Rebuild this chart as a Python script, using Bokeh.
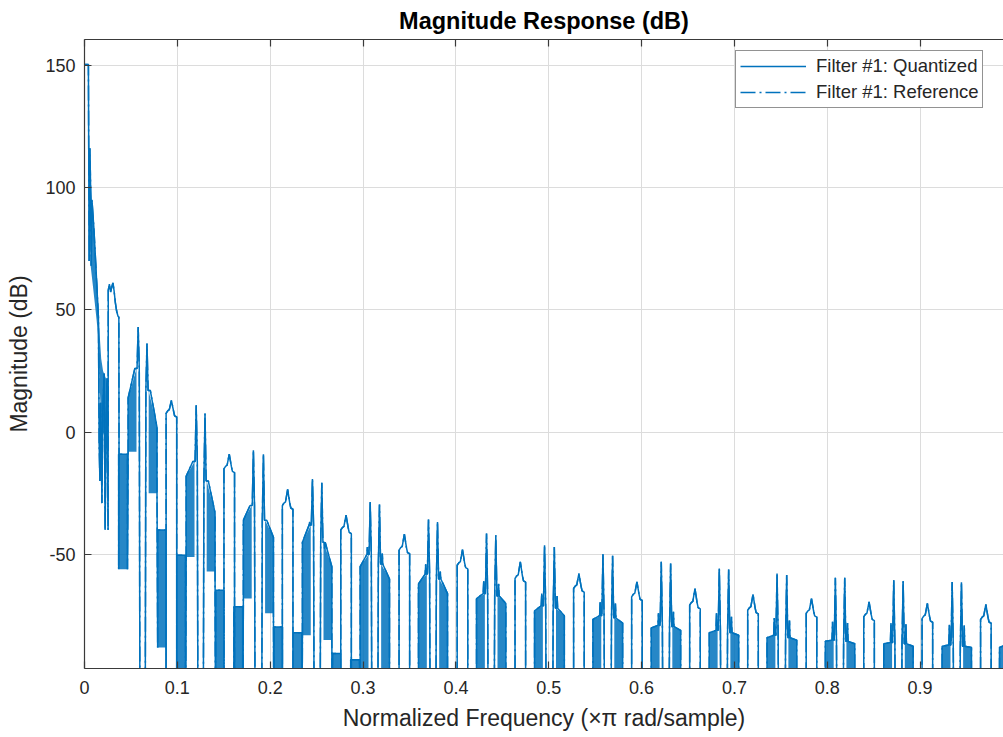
from bokeh.plotting import figure
from bokeh.models import (ColumnDataSource, FixedTicker, LinearAxis, Range1d,
                          Legend, LegendItem, PrintfTickFormatter)
from bokeh.embed import file_html
from bokeh.resources import INLINE

# ---------------------------------------------------------------- data
BELOW = -150.0  # response value under the axis floor (clipped)

x_ticks = [0.0, 0.1, 0.2, 0.3, 0.4, 0.5, 0.6, 0.7, 0.8, 0.9]
x_tick_labels = ["0", "0.1", "0.2", "0.3", "0.4", "0.5", "0.6", "0.7", "0.8", "0.9"]
y_ticks = [-50, 0, 50, 100, 150]
y_tick_labels = ["-50", "0", "50", "100", "150"]

# passband edge and first stopband lobe, point by point
start_freq = [0.0, 0.0042, 0.0050, 0.0058, 0.0066, 0.0072, 0.0080, 0.0100, 0.0125, 0.0150,
              0.0158, 0.0166, 0.0174, 0.0188, 0.0196, 0.0212, 0.0222, 0.0234, 0.0242, 0.0254,
              0.0256, 0.0268, 0.0281, 0.0295, 0.0306, 0.0318, 0.0332, 0.0346, 0.0360, 0.0370, 0.0372]
start_db = [150.3, 150.3, 70.0, 116.0, 100.0, 68.0, 95.0, 84.0, 66.0, 47.0,
            -5.0, -20.0, 12.0, -29.0, 8.0, 24.0, -40.0, 5.0, 22.0, -40.0,
            58.0, 60.5, 57.3, 59.5, 61.0, 58.0, 53.0, 49.5, 47.5, 47.0, -9.0]

# dense band of the transition region
band0_freq = [0.0066, 0.0090, 0.0110, 0.0130, 0.0145, 0.0160, 0.0180, 0.0200, 0.0230, 0.0255]
band0_top = [100.5, 90.0, 79.0, 66.0, 55.0, 42.0, 30.0, 25.0, 22.0, 20.0]
band0_bottom = [68.0, 60.0, 53.0, 46.0, 40.0, 22.0, 4.0, 0.0, -3.0, -6.0]

# twin spikes of each stopband period
spike_l_freq = [0.0578, 0.1203, 0.1819, 0.2455, 0.3077, 0.3705, 0.4330, 0.4955,
                0.5584, 0.6212, 0.6837, 0.7459, 0.8087, 0.8716, 0.9345]
spike_l_db = [43.0, 11.0, -7.4, -19.2, -28.5, -35.7, -41.4, -46.2,
              -49.9, -53.0, -55.7, -57.8, -59.5, -60.5, -61.2]
spike_r_freq = [0.0673, 0.1298, 0.1927, 0.2556, 0.3177, 0.3802, 0.4430, 0.5060,
                0.5688, 0.6313, 0.6938, 0.7563, 0.8188, 0.8817, 0.9445]
spike_r_db = [36.2, 7.6, -9.0, -20.7, -29.6, -36.7, -42.1, -46.9,
              -50.5, -53.7, -56.1, -58.4, -59.5, -60.8, -61.4]
side_l_db = [26.0, -12.0, -30.0, -36.7, -47.0, -54.0, -61.0, -66.0,
             -69.5, -74.0, -74.0, -76.0, -77.5, -78.0, -78.7]
side_r_db = [17.0, -20.0, -36.0, -47.6, -49.6, -57.0, -62.0, -67.0,
             -70.0, -73.4, -75.5, -77.0, -78.0, -78.5, -79.0]

# dense lobes around each spike pair: A (far left), B (near left), C (near right), D (far right)
a_top_db = [-9.0, -50.3, -71.4, -82.0, -93.0, -150, -150, -150, -150, -150, -150, -150, -150, -150, -150]
a_bottom_db = [-56.0, -150, -150, -150, -150, -150, -150, -150, -150, -150, -150, -150, -150, -150, -150]
b_outer_db = [14.0, -18.0, -36.0, -45.0, -55.0, -62.0, -68.0, -73.0,
              -76.5, -80.0, -82.0, -84.0, -85.5, -86.5, -87.5]
b_inner_db = [26.0, -12.0, -30.0, -38.0, -50.0, -58.0, -66.0, -71.0,
              -75.0, -79.0, -81.0, -83.0, -85.0, -86.0, -87.0]
b_bottom_db = [-8.0, -51.0, -68.0, -83.0, -150, -150, -150, -150, -150, -150, -150, -150, -150, -150, -150]
c_inner_db = [17.0, -20.0, -36.0, -45.0, -54.0, -60.0, -67.0, -72.0,
              -76.0, -79.5, -82.0, -84.0, -85.5, -86.5, -87.5]
c_outer_db = [2.0, -33.0, -43.0, -55.0, -60.0, -66.0, -70.0, -75.0,
              -78.0, -81.0, -83.0, -85.0, -86.5, -87.5, -88.0]
c_bottom_db = [-25.0, -57.0, -74.0, -85.0, -150, -150, -150, -150, -150, -150, -150, -150, -150, -150, -150]
d_top_db = [-40.0, -64.6, -79.6, -90.5, -150, -150, -150, -150, -150, -150, -150, -150, -150, -150, -150]
d_bottom_db = [-88.0, -150, -150, -150, -150, -150, -150, -150, -150, -150, -150, -150, -150, -150, -150]

# flat-topped lobes between the spike pairs
house_freq = [0.0936, 0.1559, 0.2188, 0.2817, 0.3445, 0.4071, 0.4694, 0.5325,
              0.5950, 0.6575, 0.7200, 0.7830, 0.8450, 0.9078, 0.9708]
house_peak_db = [13.0, -9.0, -23.4, -33.9, -41.7, -48.0, -53.0, -57.8,
                 -61.2, -63.9, -66.3, -68.0, -69.4, -70.0, -70.4]
house_shoulder_db = [7.7, -15.0, -30.0, -40.0, -48.2, -54.4, -59.8, -63.9,
                     -67.3, -70.7, -72.8, -74.1, -75.5, -76.2, -76.6]

# start of the next lobe at the right edge
tail_freq = [0.9855, 0.9855, 0.9920]
tail_db = [-150.0, -88.0, -87.0]

# frequency extents
a_span = (-0.0210, -0.0115)   # relative to left spike
b_span = (-0.0108, -0.0018)
c_span = (0.0018, 0.0108)     # relative to right spike
d_span = (0.0115, 0.0205)
house_half = 0.0057
flank = 0.0012

# ---------------------------------------------------------------- geometry
line_f = list(start_freq)
line_db = list(start_db)
px, py = [band0_freq + band0_freq[::-1]], [band0_top + band0_bottom[::-1]]

for i in range(len(spike_l_freq)):
    L, R = spike_l_freq[i], spike_r_freq[i]
    a0, a1 = L + a_span[0], L + a_span[1]
    b0, b1 = L + b_span[0], L + b_span[1]
    c0, c1 = R + c_span[0], R + c_span[1]
    d0, d1 = R + d_span[0], R + d_span[1]
    px += [[a0, a0, a1, a1], [b0, b0, b1, b1], [c0, c0, c1, c1], [d0, d0, d1, d1]]
    py += [[a_bottom_db[i], a_top_db[i], a_top_db[i], a_bottom_db[i]],
           [b_bottom_db[i], b_outer_db[i], b_inner_db[i], b_bottom_db[i]],
           [c_bottom_db[i], c_inner_db[i], c_outer_db[i], c_bottom_db[i]],
           [d_bottom_db[i], d_top_db[i], d_top_db[i], d_bottom_db[i]]]
    bi, ci = b_inner_db[i], c_inner_db[i]
    seg = [(a0, a_bottom_db[i]), (a0, a_top_db[i]), (a1, a_top_db[i]), (a1, a_bottom_db[i]),
           (b0, b_bottom_db[i]), (b0, b_outer_db[i]),
           (L - 3 * flank, bi), (L - 2.5 * flank, side_l_db[i]), (L - 2 * flank, bi),
           (L - flank, bi), (L, spike_l_db[i]), (L + flank, bi), (L + 1.7 * flank, BELOW),
           (R - 1.7 * flank, BELOW), (R - flank, ci), (R, spike_r_db[i]), (R + flank, ci),
           (R + 2 * flank, ci), (R + 2.5 * flank, side_r_db[i]), (R + 3 * flank, ci),
           (c1, c_outer_db[i]), (c1, c_bottom_db[i]),
           (d0, d_bottom_db[i]), (d0, d_top_db[i]), (d1, d_top_db[i]), (d1, d_bottom_db[i])]
    hf, h = house_freq[i], house_half
    pk, sh = house_peak_db[i], house_shoulder_db[i]
    seg += [(hf - h, BELOW), (hf - h, sh), (hf - 0.7 * h, sh + 1.0), (hf - 0.4 * h, sh + 1.5),
            (hf, pk), (hf + 0.4 * h, sh + 1.0), (hf + 0.6 * h, sh - 1.0), (hf + h, sh - 1.5),
            (hf + h, BELOW)]
    line_f += [s[0] for s in seg]
    line_db += [s[1] for s in seg]

line_f += tail_freq
line_db += tail_db
px.append([tail_freq[0], tail_freq[1], tail_freq[2], tail_freq[2]])
py.append([tail_db[0], tail_db[1], tail_db[2], tail_db[0]])

# ---------------------------------------------------------------- figure
BLUE = "#0072BD"
AX = "#3a3a3a"
FONT = "Liberation Sans"

p = figure(width=1003, height=737, output_backend="svg", toolbar_location=None,
           x_range=Range1d(0, 0.9898), y_range=Range1d(-96.6, 160.5),
           min_border_left=84, min_border_right=0, min_border_top=39, min_border_bottom=69,
           background_fill_color="white", border_fill_color="white")
p.outline_line_color = None

p.title.text = "Magnitude Response (dB)"
p.title.align = "center"
p.title.text_font = FONT
p.title.text_font_size = "23.5px"
p.title.text_font_style = "bold"
p.title.text_color = "#000000"
p.title.text_line_height = 1.0
p.title.standoff = 11

src_line = ColumnDataSource(dict(f=line_f, db=line_db))
p.patches(xs=px, ys=py, fill_color=BLUE, fill_alpha=0.85, line_color=None)
r1 = p.line("f", "db", source=src_line, line_color=BLUE, line_width=1.5)
r2 = p.line("f", "db", source=src_line, line_color=BLUE, line_width=1.5, line_dash="15 4 2 4")


def style_axis(ax, ticks, labels):
    ax.ticker = FixedTicker(ticks=ticks)
    ax.formatter = PrintfTickFormatter(format="%g")
    ax.major_label_overrides = dict(zip(ticks, labels))
    ax.major_tick_in = 7
    ax.major_tick_out = 0
    ax.minor_tick_in = 0
    ax.minor_tick_out = 0
    ax.axis_line_color = AX
    ax.axis_line_width = 1.2
    ax.major_tick_line_color = AX
    ax.major_tick_line_width = 1.2
    ax.major_label_text_font = FONT
    ax.major_label_text_font_size = "18px"
    ax.major_label_text_color = "#262626"
    ax.axis_label_text_font = FONT
    ax.axis_label_text_font_size = "23px"
    ax.axis_label_text_font_style = "normal"
    ax.axis_label_text_color = "#262626"


style_axis(p.xaxis[0], x_ticks, x_tick_labels)
style_axis(p.yaxis[0], y_ticks, y_tick_labels)
p.xaxis[0].axis_label = "Normalized Frequency (×π rad/sample)"
p.xaxis[0].major_label_standoff = 12
p.xaxis[0].axis_label_standoff = 8
p.yaxis[0].axis_label = "Magnitude (dB)"
p.yaxis[0].major_label_standoff = 9
p.yaxis[0].axis_label_standoff = 10

top_axis = LinearAxis(ticker=FixedTicker(ticks=x_ticks), major_label_text_font_size="0px",
                      major_label_text_color=None, major_label_standoff=0,
                      major_tick_in=7, major_tick_out=0,
                      minor_tick_in=0, minor_tick_out=0, axis_line_color=AX, axis_line_width=1.2,
                      major_tick_line_color=AX, major_tick_line_width=1.2)
p.add_layout(top_axis, "above")

for g in (p.xgrid[0], p.ygrid[0]):
    g.grid_line_color = "#dcdcdc"
    g.grid_line_width = 1
p.xgrid[0].ticker = FixedTicker(ticks=x_ticks)
p.ygrid[0].ticker = FixedTicker(ticks=y_ticks)

legend = Legend(items=[LegendItem(label="Filter #1: Quantized", renderers=[r1]),
                       LegendItem(label="Filter #1: Reference", renderers=[r2])],
                location=(651, 560), margin=0, padding=4, spacing=4,
                glyph_width=66, glyph_height=16, label_height=16, label_standoff=10,
                label_text_font=FONT, label_text_font_size="18.5px", label_text_color="#262626",
                border_line_color="#262626", border_line_width=1,
                background_fill_color="white", background_fill_alpha=1.0)
p.add_layout(legend)

open("out.html", "w").write(file_html(p, INLINE))
